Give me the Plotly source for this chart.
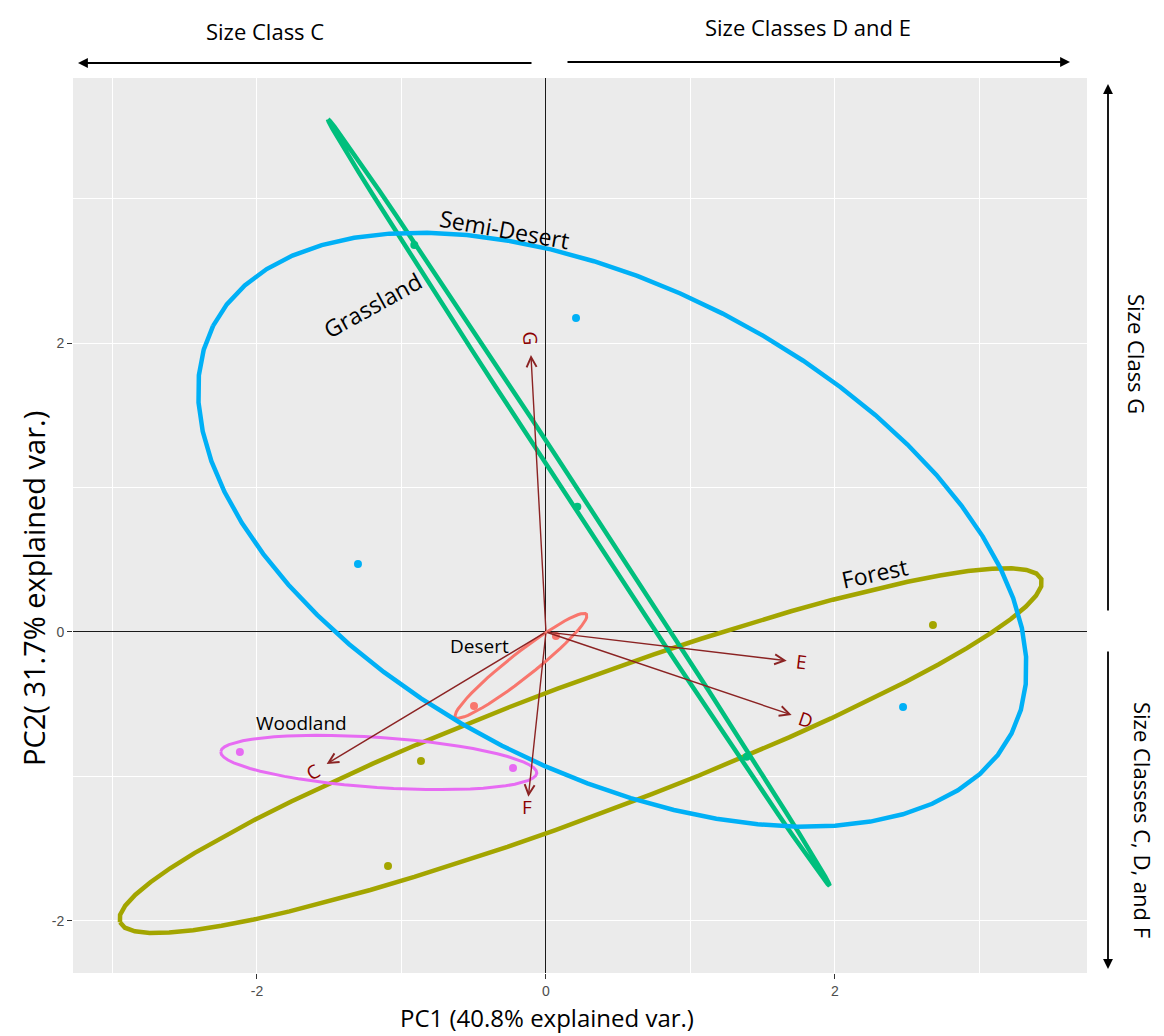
import numpy as np
import plotly.graph_objects as go

# ---- PCA scores by habitat ----
groups = ["Desert", "Forest", "Grassland", "Semi-Desert", "Woodland"]
group_colors = ["#F8766D", "#A3A500", "#00BF7D", "#00B0F6", "#E76BF3"]

desert_pc1 = [0.069, -0.498]
desert_pc2 = [-0.028, -0.512]
forest_pc1 = [2.678, -0.865, -1.093]
forest_pc2 = [0.048, -0.893, -1.619]
grass_pc1 = [-0.911, 0.217, 1.389]
grass_pc2 = [2.678, 0.867, -0.863]
semi_pc1 = [0.208, -1.301, 2.471]
semi_pc2 = [2.173, 0.471, -0.519]
wood_pc1 = [-2.118, -0.228]
wood_pc2 = [-0.830, -0.941]

# ---- 68% normal-probability ellipses: centre, semi-axes, rotation (deg) ----
ell_cx = [-0.173, 0.240, 0.227, 0.459, -1.157]
ell_cy = [-0.234, -0.821, 0.896, 0.708, -0.903]
ell_a = [0.577, 3.402, 3.170, 3.102, 1.096]
ell_b = [0.085, 0.457, 0.045, 1.679, 0.173]
ell_angle = [38.2, 20.43, -56.8, -27.05, -3.87]
ell_width = [3, 4.5, 4.5, 4.5, 3]

# ---- variable loadings (size classes) ----
var_names = ["C", "D", "E", "F", "G"]
load_pc1 = [-1.518, 1.700, 1.666, -0.122, -0.104]
load_pc2 = [-0.913, -0.574, -0.199, -1.140, 1.917]
var_label_angle = [-31, 18.7, 6.8, 0, 87]

# group name labels
grp_label_text = ["Desert", "Forest", "Grassland", "Semi-Desert", "Woodland"]
grp_label_x = [-0.46, 2.27, -1.20, -0.29, -1.69]
grp_label_y = [-0.10, 0.41, 2.26, 2.79, -0.63]
grp_label_angle = [0, -12, -29, 10, 0]
grp_label_size = [19, 23, 23, 23, 19]

scores = {
    "Desert": (desert_pc1, desert_pc2),
    "Forest": (forest_pc1, forest_pc2),
    "Grassland": (grass_pc1, grass_pc2),
    "Semi-Desert": (semi_pc1, semi_pc2),
    "Woodland": (wood_pc1, wood_pc2),
}

X_RANGE = [-3.273, 3.744]
Y_RANGE = [-2.360, 3.834]

L, R, T, B = 73, 77, 78, 63
W, H = 1164, 1036
PW, PH = W - L - R, H - T - B


def px(x):
    return (x - L) / PW


def py(y):
    return (H - B - y) / PH


fig = go.Figure()

# ellipses
t = np.linspace(-np.pi, np.pi, 61)
for i, g in enumerate(groups):
    th = np.deg2rad(ell_angle[i])
    ex = ell_cx[i] + ell_a[i] * np.cos(th) * np.cos(t) - ell_b[i] * np.sin(th) * np.sin(t)
    ey = ell_cy[i] + ell_a[i] * np.sin(th) * np.cos(t) + ell_b[i] * np.cos(th) * np.sin(t)
    fig.add_trace(go.Scatter(x=ex, y=ey, mode="lines",
                             line=dict(color=group_colors[i], width=ell_width[i]),
                             hoverinfo="skip", showlegend=False))

# points
for i, g in enumerate(groups):
    xs, ys = scores[g]
    fig.add_trace(go.Scatter(x=xs, y=ys, mode="markers",
                             marker=dict(color=group_colors[i], size=8),
                             name=g, showlegend=False))

annotations = []

# loading arrows from the origin
for i, v in enumerate(var_names):
    annotations.append(dict(
        x=load_pc1[i], y=load_pc2[i], xref="x", yref="y",
        ax=0, ay=0, axref="x", ayref="y", text="",
        showarrow=True, arrowhead=5, arrowsize=1.4, arrowwidth=1.4,
        arrowcolor="#8B2323", standoff=0, startstandoff=0))
    annotations.append(dict(
        x=load_pc1[i] * 1.06, y=load_pc2[i] * 1.06, xref="x", yref="y",
        text=v, showarrow=False, textangle=var_label_angle[i],
        xanchor="center", yanchor="middle",
        font=dict(family="Open Sans, DejaVu Sans", size=19, color="#8B0000")))

# group labels
for i, txt in enumerate(grp_label_text):
    annotations.append(dict(
        x=grp_label_x[i], y=grp_label_y[i], xref="x", yref="y",
        text=txt, showarrow=False, textangle=grp_label_angle[i],
        xanchor="center", yanchor="middle",
        font=dict(family="Open Sans, DejaVu Sans", size=grp_label_size[i], color="black")))

title_font = "Open Sans, DejaVu Sans"


def paper_text(x, y, text, size, angle=0):
    return dict(x=px(x), y=py(y), xref="paper", yref="paper", text=text,
                showarrow=False, textangle=angle, xanchor="center", yanchor="middle",
                font=dict(family=title_font, size=size, color="black"))


# axis titles
annotations.append(paper_text(547, 1017, "PC1 (40.8% explained var.)", 24))
annotations.append(paper_text(33, 589, "PC2( 31.7% explained var.)", 29, -90))

# direction guides around the panel
annotations.append(paper_text(265, 31, "Size Class C", 22))
annotations.append(paper_text(808, 27, "Size Classes D and E", 22))
annotations.append(paper_text(1137, 354, "Size Class G", 22, 90))
annotations.append(paper_text(1143, 820, "Size Classes C, D, and F", 22, 90))

guide_arrows = [
    # head (x, y), tail offset (dx, dy) in pixels
    ((78, 63), (455, 0)),
    ((1070, 62), (-504, 0)),
    ((1108, 84), (0, 528)),
    ((1108, 969), (0, -319)),
]
for (hx, hy), (dx, dy) in guide_arrows:
    annotations.append(dict(x=px(hx), y=py(hy), xref="paper", yref="paper",
                            ax=dx, ay=dy, text="", showarrow=True,
                            arrowhead=2, arrowsize=1.1, arrowwidth=1.8,
                            arrowcolor="black", standoff=0))

axis_common = dict(
    showgrid=True, gridcolor="white", gridwidth=1.4,
    zeroline=True, zerolinecolor="#1a1a1a", zerolinewidth=1,
    ticks="outside", ticklen=5, tickwidth=1, tickcolor="#333333",
    tickfont=dict(family="Liberation Sans, Arial", size=14, color="#4D4D4D"),
    showline=False,
    minor=dict(showgrid=True, gridcolor="white", gridwidth=0.7, dtick=1, ticks=""),
)

fig.update_layout(
    width=W, height=H,
    margin=dict(l=L, r=R, t=T, b=B),
    paper_bgcolor="white", plot_bgcolor="#EBEBEB",
    xaxis=dict(range=X_RANGE, tickmode="array", tickvals=[-2, 0, 2],
               ticktext=["-2", "0", "2"], **axis_common),
    yaxis=dict(range=Y_RANGE, tickmode="array", tickvals=[-2, 0, 2],
               ticktext=["-2", "0", "2"], **axis_common),
    annotations=annotations,
    showlegend=False,
)

fig.write_html("out.html")
